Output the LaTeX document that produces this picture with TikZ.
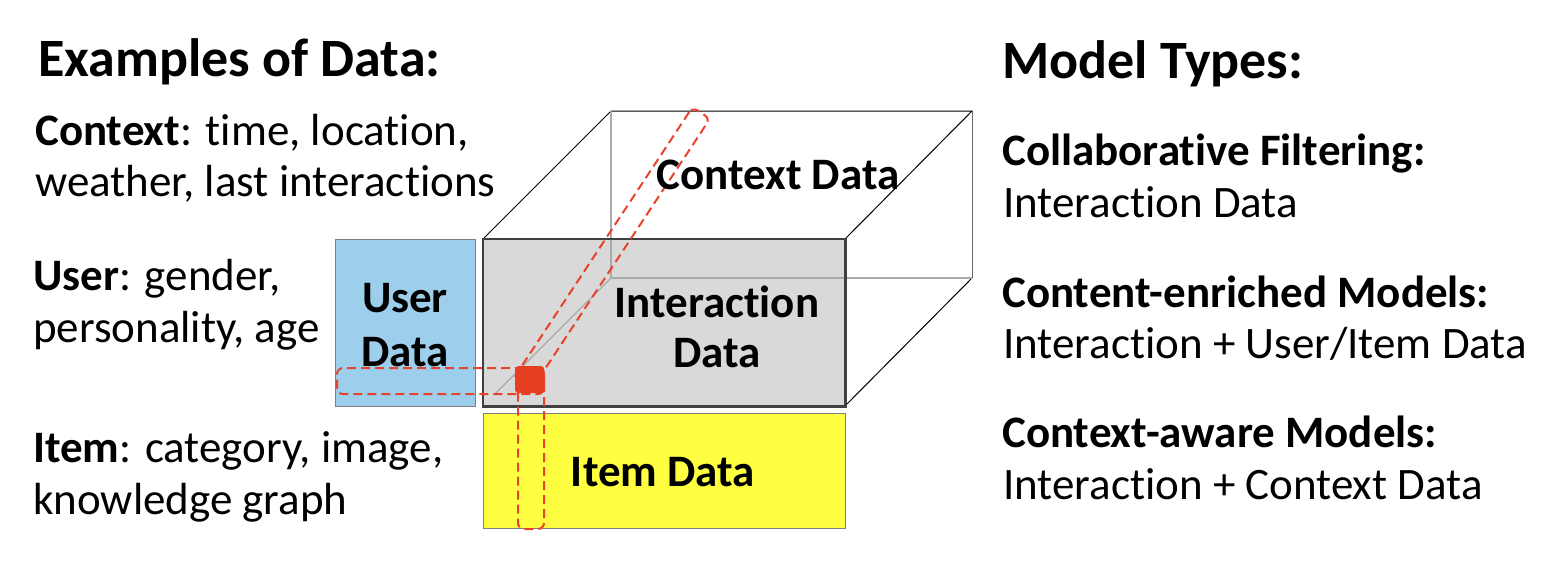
\documentclass[tikz,border=0pt]{standalone}
\usepackage{fontspec}
\setmainfont{Carlito}[Ligatures={NoCommon}]
\definecolor{userblue}{RGB}{157,207,236}
\definecolor{itemyellow}{RGB}{255,255,66}
\definecolor{facegray}{RGB}{217,217,217}
\definecolor{hidgray}{RGB}{170,170,170}
\definecolor{redline}{RGB}{232,67,42}
\definecolor{redsq}{RGB}{230,62,32}
\tikzset{
  txt/.style={anchor=base west, inner sep=0pt, font=\fontsize{45}{52}\selectfont},
  ttl/.style={anchor=base west, inner sep=0pt, font=\bfseries\fontsize{54}{60}\selectfont},
  lbl/.style={inner sep=0pt, align=center, font=\bfseries\fontsize{45}{54}\selectfont},
  cubeedge/.style={draw=black, line width=1pt},
  hidden/.style={draw=hidgray, line width=1.2pt},
  redstrip/.style={draw=redline, line width=2pt, dash pattern=on 9pt off 5pt, rounded corners=6pt},
  boxrect/.style={anchor=north west, inner sep=0pt, draw=gray, line width=1pt}
}
\begin{document}
\begin{tikzpicture}[x=1pt,y=-1pt]
\useasboundingbox (0,0) rectangle (1564,560);
% cube coordinates
\coordinate (bTL) at (611,111);
\coordinate (bTR) at (972,111);
\coordinate (bBR) at (972,278);
\coordinate (bBL) at (611,278);
% back/top edges
\draw[cubeedge] (483,239) -- (bTL) -- (bTR) -- (845,239);
\draw[draw=gray!80!black, line width=1pt] (bTR) -- (bBR);
\draw[cubeedge] (bBR) -- (845,406);
% user box
\node[boxrect, fill=userblue, minimum width=140pt, minimum height=167pt] (userbox) at (335,239) {};
% interaction face
\node[anchor=north west, inner sep=0pt, fill=facegray, minimum width=362pt, minimum height=167pt] (interbox) at (483,239) {};
% hidden lines
\draw[hidden] (bTL) -- (bBL) -- (bBR);
\draw[hidden] (bBL) -- (494,395);
\draw[draw=black!75, line width=2.5pt] (interbox.north west) rectangle (interbox.south east);
% item box
\node[boxrect, fill=itemyellow, minimum width=362pt, minimum height=115pt] (itembox) at (483,413) {};
% red strips
\node[redstrip, minimum width=207pt, minimum height=26pt, anchor=north west, inner sep=0pt] (hstrip) at (336,367) {};
\node[redstrip, minimum width=26pt, minimum height=161pt, anchor=north west, inner sep=0pt] (vstrip) at (517,367) {};
\node[redstrip, minimum width=326pt, minimum height=21pt, inner sep=0pt, rotate=56.6] (dstrip) at (611.5,249) {};
\node[fill=redsq, rounded corners=3pt, minimum width=29pt, minimum height=27pt, inner sep=0pt, anchor=north west] (cell) at (515,366) {};
% box labels
\node[lbl] (userlbl) at (405,325) {User\\Data};
\node[lbl] (interlbl) at (717,327) {Interaction\\[-4pt]Data};
\node[lbl] (ctxlbl) at (778,175) {Context Data};
\node[lbl] (itemlbl) at (663,472) {Item Data};
% left texts
\node[ttl] (exttl) at (38,76) {Examples of Data:};
\node[txt] (ctx1) at (35,145) {\textbf{Context}: time, location,};
\node[txt] (ctx2) at (35,196) {weather, last interactions};
\node[txt] (usr1) at (33,290) {\textbf{User}: gender,};
\node[txt] (usr2) at (33,342) {personality, age};
\node[txt] (itm1) at (33,462) {\textbf{Item}: category, image,};
\node[txt] (itm2) at (33,514) {knowledge graph};
% right texts
\node[ttl] (mtttl) at (1002,78) {Model Types:};
\node[txt, font=\bfseries\fontsize{45}{52}\selectfont] (cf1) at (1002,165) {Collaborative Filtering:};
\node[txt] (cf2) at (1003,217) {Interaction Data};
\node[txt, font=\bfseries\fontsize{45}{52}\selectfont] (ce1) at (1002,307) {Content-enriched Models:};
\node[txt] (ce2) at (1003,358) {Interaction + User/Item Data};
\node[txt, font=\bfseries\fontsize{45}{52}\selectfont] (ca1) at (1002,447) {Context-aware Models:};
\node[txt] (ca2) at (1003,499) {Interaction + Context Data};
\end{tikzpicture}
\end{document}
